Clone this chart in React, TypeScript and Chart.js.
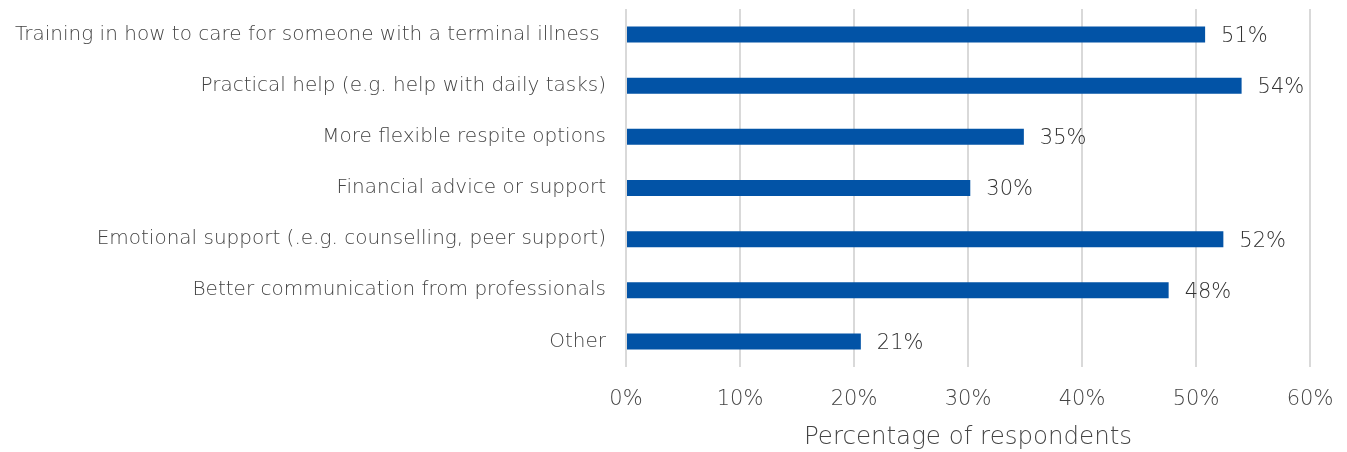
import React, { useEffect, useRef } from "react";
import { Chart, registerables } from "chart.js";

Chart.register(...registerables);

const categories: string[] = [
  "Training in how to care for someone with a terminal illness ",
  "Practical help (e.g. help with daily tasks)",
  "More flexible respite options",
  "Financial advice or support",
  "Emotional support (.e.g. counselling, peer support)",
  "Better communication from professionals",
  "Other",
];
const values: number[] = [50.8, 54.0, 34.9, 30.2, 52.4, 47.6, 20.6];
const valueLabels: string[] = ["51%", "54%", "35%", "30%", "52%", "48%", "21%"];
const xTicks: number[] = [0, 10, 20, 30, 40, 50, 60];

const FONT = "'DejaVu Sans', sans-serif";

const dataLabelPlugin = {
  id: "dataLabels",
  afterDatasetsDraw(chart: any) {
    const ctx = chart.ctx;
    const meta = chart.getDatasetMeta(0);
    ctx.save();
    ctx.font = `300 21px ${FONT}`;
    ctx.fillStyle = "#333333";
    ctx.textAlign = "left";
    ctx.textBaseline = "middle";
    meta.data.forEach((bar: any, i: number) => {
      ctx.fillText(valueLabels[i], bar.x + 16, bar.y + 2);
    });
    ctx.restore();
  },
};

export default function App() {
  const ref = useRef<HTMLCanvasElement>(null);
  useEffect(() => {
    if (!ref.current) return;
    const chart = new Chart(ref.current, {
      type: "bar",
      data: {
        labels: categories,
        datasets: [
          {
            data: values,
            backgroundColor: "#0253A6",
            borderWidth: 0,
            barPercentage: 0.3125,
            categoryPercentage: 1,
          },
        ],
      },
      options: {
        indexAxis: "y",
        animation: false,
        responsive: true,
        maintainAspectRatio: false,
        layout: { padding: { top: 9, right: 37, left: 0, bottom: 0 } },
        plugins: {
          legend: { display: false },
          tooltip: { enabled: false },
        },
        scales: {
          x: {
            min: 0,
            max: 60,
            afterBuildTicks: (scale: any) => {
              scale.ticks = xTicks.map((v) => ({ value: v }));
            },
            afterFit: (scale: any) => {
              scale.height = 85;
              scale.paddingLeft = 0;
              scale.paddingRight = 0;
            },
            grid: { color: "#D9D9D9", lineWidth: 2, drawTicks: false },
            border: { display: false },
            ticks: {
              padding: 20,
              color: "#444444",
              font: { family: FONT, size: 21, weight: "300" as any },
              callback: (v: any) => `${v}%`,
            },
            title: {
              display: true,
              text: "Percentage of respondents",
              color: "#444444",
              font: { family: FONT, size: 24.5, weight: "300" as any },
              padding: { top: 0, bottom: 0 },
            },
          },
          y: {
            afterFit: (scale: any) => {
              scale.width = 626;
              scale.paddingTop = 0;
              scale.paddingBottom = 0;
            },
            grid: { display: false, drawTicks: false },
            border: { display: false },
            ticks: {
              padding: 20,
              color: "#444444",
              font: { family: FONT, size: 20, weight: "300" as any },
            },
          },
        },
      },
      plugins: [dataLabelPlugin],
    });
    return () => chart.destroy();
  }, []);
  return (
    <div style={{ position: "fixed", left: 0, top: 0, width: 1347, height: 452 }}>
      <canvas ref={ref} />
    </div>
  );
}
